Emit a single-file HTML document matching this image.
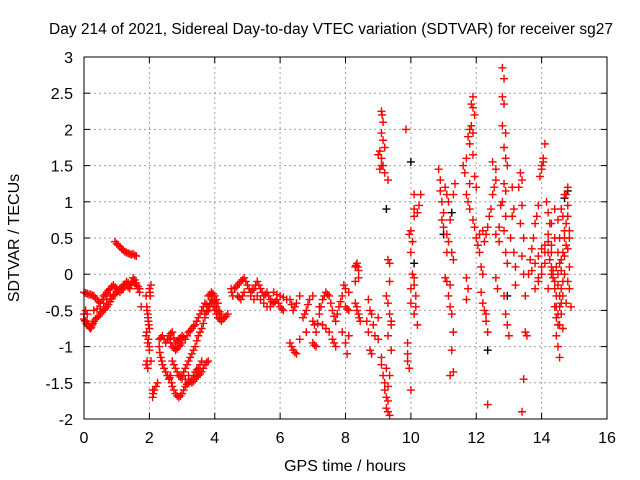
<!DOCTYPE html>
<html><head><meta charset="utf-8"><style>
body{margin:0;background:#fff;}
svg{display:block;font-family:"Liberation Sans",sans-serif;}
</style></head><body>
<svg id="chart" width="640" height="480">
<text x="331" y="34" text-anchor="middle" font-size="15.5">Day 214 of 2021, Sidereal Day-to-day VTEC variation (SDTVAR) for receiver sg27</text>
<text x="345" y="471" text-anchor="middle" font-size="16">GPS time / hours</text>
<text transform="translate(19,238) rotate(-90)" text-anchor="middle" font-size="16">SDTVAR / TECUs</text>
<g id="grid"></g><g id="ticks"></g><g id="black"></g><g id="red"></g>
<rect x="84" y="57" width="523" height="362" fill="none" stroke="#000" stroke-width="1"/>
</svg>
<script>
const xTicks=[0,2,4,6,8,10,12,14,16];
const yTicks=[-2,-1.5,-1,-0.5,0,0.5,1,1.5,2,2.5,3];
const yTickLabels=["-2","-1.5","-1","-0.5","0","0.5","1","1.5","2","2.5","3"];
const redHours=[0,0.05,0.1,0.15,0.2,0.25,0.3,0.4,0.5,0.6,0.7,0.8,0.9,1.0,1.1,1.2,1.3,1.4,1.5,1.6,1.7,
0,0.1,0.2,0.3,0.4,0.5,0.6,0.7,0.8,0.9,1.0,1.1,1.2,1.3,1.4,1.5,1.6,1.7,1.75,0.3,0.5,0.7,0.9,
0.95,1.0,1.1,1.2,1.3,1.4,1.5,1.6,
1.9,1.92,1.95,1.97,2.0,1.9,1.95,2.0,2.05,2.02,1.9,1.95,2.05,2.1,2.1,2.2,2.25,
2.3,2.4,2.5,2.6,2.7,2.8,2.9,3.0,3.1,3.2,3.3,3.4,3.5,3.6,3.7,3.8,3.9,4.0,4.1,4.2,
2.3,2.35,2.4,2.5,2.6,2.65,2.7,2.8,2.9,3.0,3.1,3.2,3.3,3.4,3.5,3.6,
2.7,2.8,2.9,3.0,3.1,3.2,3.0,3.1,3.2,3.3,3.4,3.5,3.6,3.7,3.3,3.4,3.5,3.6,3.7,3.8,2.6,2.7,2.8,2.9,3.0,
3.7,3.8,3.9,4.0,4.1,4.2,4.3,4.4,3.8,3.9,4.0,4.1,
4.5,4.55,4.6,4.7,4.8,4.9,5.0,5.1,5.2,5.3,5.4,5.5,5.6,5.7,5.8,5.9,6.0,6.1,6.2,4.7,4.8,4.9,5.2,5.4,5.6,5.8,6.0,
6.3,6.4,6.5,6.3,6.4,6.5,6.6,6.7,6.8,6.9,7.0,7.0,7.1,7.2,7.3,7.4,7.5,7.6,7.7,7.8,7.9,8.0,8.1,7.0,7.1,7.3,7.5,7.6,7.7,7.2,6.6,6.8,7.9,8.0,8.05,8.1,7.95,8.0,8.1,8.3,8.35,8.4,8.3,8.4,8.3,8.35,8.4,8.45,
8.7,8.75,8.8,8.65,8.7,8.85,8.9,8.75,8.8,9.0,9.0,9.1,9.1,9.15,9.2,9.25,9.3,9.25,9.3,9.35,9.2,9.3,9.35,9.25,9.3,9.4,9.35,9.3,9.25,9.35,9.3,9.35,9.4,9.4,
9.1,9.12,9.15,9.1,9.15,9.1,9.05,9.2,9.15,9.05,9.2,9.3,9.0,9.1,
9.85,9.9,9.9,9.95,9.9,10.0,10.0,10.0,9.95,10.0,10.05,10.0,10.05,10.1,10.1,10.1,10.15,10.1,10.2,10.1,10.15,10.2,10.25,10.1,10.3,
10.85,10.9,10.9,10.95,11.0,10.95,11.0,11.05,11.1,11.15,11.2,11.1,11.15,11.25,11.3,11.2,11.15,11.2,11.25,11.3,11.25,11.3,11.2,11.3,11.35,11.1,11.05,11.1,
11.6,11.65,11.7,11.75,11.8,11.85,11.9,11.85,11.9,11.9,11.95,11.8,11.9,11.95,12.0,11.7,11.75,11.8,11.9,11.95,12.0,12.05,12.1,12.15,12.2,12.15,12.2,12.25,12.3,12.3,12.35,12.35,12.1,12.2,12.25,12.3,12.35,12.4,12.45,12.5,12.55,12.6,12.5,11.7,11.75,11.7,11.8,
12.8,12.85,12.8,12.85,12.8,12.9,12.85,12.9,12.95,12.85,12.9,12.8,12.9,12.85,12.9,12.95,12.85,12.9,12.95,13.0,12.6,12.7,12.75,12.7,12.6,12.65,12.6,13.05,13.1,13.15,13.1,13.15,13.2,13.2,
13.35,13.4,13.3,13.4,13.35,13.45,13.4,13.45,13.5,13.5,13.45,13.4,13.55,13.6,13.65,13.7,13.75,13.8,13.85,13.9,13.95,14.0,14.05,14.0,14.1,14.05,14.15,14.2,14.25,14.2,14.3,14.25,14.3,14.35,14.4,14.4,14.45,14.5,14.45,14.5,14.55,14.6,14.6,14.65,14.7,14.65,14.7,14.75,14.8,14.75,14.8,14.85,14.8,14.85,14.8,14.85,14.9,14.85,14.8,
13.7,13.8,13.9,14.0,14.1,14.2,14.3,14.4,14.5,14.55,14.6,14.5,14.4,14.3,14.2,14.1,14.0,13.9,14.5,14.6,14.7,13.8,13.9,14.45,14.55,14.65,14.55];
const redValues=[-0.62,-0.65,-0.7,-0.72,-0.75,-0.7,-0.65,-0.6,-0.55,-0.5,-0.45,-0.38,-0.3,-0.25,-0.2,-0.15,-0.15,-0.2,-0.1,-0.15,-0.25,
-0.25,-0.27,-0.28,-0.3,-0.35,-0.4,-0.3,-0.25,-0.2,-0.15,-0.2,-0.25,-0.2,-0.1,-0.15,-0.05,-0.12,-0.2,-0.45,-0.5,-0.45,-0.35,-0.28,
0.45,0.42,0.38,0.33,0.3,0.28,0.28,0.25,
-0.3,-0.45,-0.55,-0.65,-0.75,-0.85,-0.95,-1.05,-0.15,-0.25,-1.25,-1.3,-1.2,-1.6,-1.7,-1.55,-1.5,
-0.9,-0.85,-0.95,-0.85,-0.8,-0.95,-0.9,-0.85,-0.9,-0.8,-0.75,-0.7,-0.6,-0.5,-0.4,-0.45,-0.35,-0.4,-0.5,-0.55,
-1.0,-1.15,-1.25,-1.35,-1.45,-1.4,-1.55,-1.65,-1.7,-1.65,-1.55,-1.5,-1.45,-1.35,-1.3,-1.2,
-1.2,-1.3,-1.4,-1.45,-1.45,-1.4,-1.4,-1.3,-1.2,-1.1,-1.0,-0.85,-0.75,-0.6,-1.5,-1.45,-1.4,-1.35,-1.25,-1.2,-0.9,-1.0,-1.05,-1.0,-0.95,
-0.55,-0.5,-0.4,-0.5,-0.6,-0.65,-0.6,-0.55,-0.3,-0.25,-0.3,-0.4,
-0.2,-0.3,-0.2,-0.15,-0.1,-0.05,-0.15,-0.25,-0.2,-0.1,-0.2,-0.3,-0.25,-0.35,-0.4,-0.35,-0.45,-0.5,-0.35,-0.3,-0.35,-0.25,-0.35,-0.35,-0.45,-0.25,-0.3,
-0.35,-0.5,-0.4,-0.95,-1.05,-1.1,-0.9,-0.6,-0.5,-0.35,-0.3,-0.65,-0.8,-0.55,-0.35,-0.25,-0.3,-0.5,-0.65,-0.45,-0.3,-0.45,-0.5,-0.95,-1.0,-0.7,-0.8,-0.9,-1.0,-0.45,-0.3,-0.8,-0.8,-0.95,-1.1,-0.85,-0.15,-0.2,-0.25,0.1,0.15,0.05,-0.1,-0.05,-0.4,-0.5,-0.55,-0.65,
-0.35,-0.5,-0.55,-0.65,-0.8,-0.7,-0.85,-1.05,-1.1,-0.6,-0.9,-1.15,-1.25,-1.4,-1.6,-1.7,-1.75,-1.85,-1.9,-1.95,-1.5,-1.55,-1.4,-1.3,-0.85,-0.7,-0.55,-0.4,-0.3,-0.1,0.2,0.15,-1.05,-0.65,
2.25,2.2,2.1,1.95,1.85,1.6,1.7,1.75,1.5,1.45,1.4,1.3,1.65,1.5,
2.0,-1.1,-1.2,-1.3,-0.95,-1.6,-0.4,-0.2,0.55,0.6,0.45,0.3,0.0,-0.05,0.9,0.8,-0.45,-0.55,-0.7,-0.15,-0.3,0.85,0.95,1.1,1.1,
1.45,1.15,1.3,1.0,0.85,0.75,0.65,1.2,1.1,1.0,0.75,0.55,0.45,0.3,0.2,-0.15,-0.3,-0.45,-0.55,-0.8,-1.05,-1.35,-1.4,1.1,1.25,0.3,-0.05,-0.1,
1.5,1.4,1.6,1.9,2.0,2.05,1.95,2.35,2.45,2.3,2.2,1.8,1.65,1.35,1.2,1.1,1.0,0.9,0.75,0.65,0.5,0.4,0.3,0.1,0.0,-0.25,-0.4,-0.5,-0.55,-0.65,-0.8,-1.8,0.55,0.6,0.45,0.55,0.65,0.8,0.9,1.1,1.2,1.3,1.55,-0.05,-0.2,-0.35,1.25,
2.85,2.7,2.45,2.35,2.05,1.95,1.75,1.6,1.5,1.25,1.15,1.0,0.8,0.6,0.3,0.15,-0.3,-0.55,-0.7,-0.85,0.55,0.65,0.95,0.45,-0.05,-0.2,1.45,0.5,0.8,0.9,1.2,0.3,0.1,-0.15,
1.4,1.3,1.2,0.95,0.7,0.5,0.25,0.0,-0.3,-0.8,-1.45,-1.9,-0.85,0.0,0.2,0.35,0.5,0.7,0.8,0.95,1.35,1.5,1.6,1.45,1.8,1.55,1.0,0.85,0.7,0.45,0.3,0.2,0.1,-0.05,-0.2,-0.45,-0.6,-0.7,-0.85,-1.0,-1.15,-0.55,-0.4,-0.3,0.0,0.3,0.5,0.7,0.8,1.1,1.2,0.6,0.35,0.1,-0.1,-0.2,-0.45,0.5,0.95,
0.05,0.15,0.25,0.35,0.4,0.55,0.7,0.9,0.75,0.5,0.2,0.0,-0.1,0.0,-0.2,0.15,0.0,-0.1,0.3,0.9,1.1,-0.2,-0.05,0.1,-0.3,-0.75,-0.45];
const denseHours=[0.025,0.075,0.125,0.175,0.225,0.275,0.35,0.45,0.55,0.65,0.75,0.85,0.95,1.05,1.15,1.25,1.35,1.45,1.55,1.65,
0.05,0.15,0.25,0.35,0.45,0.55,0.65,0.75,0.85,0.95,1.05,1.15,1.25,1.35,1.45,1.55,1.65,0.4,0.6,0.8,0.0,0.05,0.1,
1.05,1.15,1.25,1.35,1.45,1.55,
1.93,1.96,1.98,1.92,1.97,2.0,2.03,2.0,1.93,2.12,2.15,
2.35,2.45,2.55,2.65,2.75,2.85,2.95,3.05,3.15,3.25,3.35,3.45,3.55,3.65,3.75,3.85,3.95,4.05,4.15,
2.32,2.38,2.45,2.55,2.62,2.68,2.75,2.85,2.95,3.05,3.15,3.25,3.35,3.45,3.55,
2.75,2.85,2.95,3.05,3.15,3.25,3.35,3.45,3.55,3.65,3.35,3.45,3.55,3.65,3.75,2.65,2.75,2.85,2.95,
3.75,3.85,3.95,4.05,4.15,4.25,4.35,3.85,3.95,4.05,
4.52,4.65,4.75,4.85,4.95,5.05,5.15,5.25,5.35,5.45,5.55,5.65,5.75,5.85,5.95,6.05,4.75,4.85,5.1,5.3,5.5,5.7,5.9,6.1,
6.35,6.45,6.35,6.45,6.75,6.85,7.05,7.15,7.25,7.35,7.45,7.55,7.65,7.75,7.85,7.05,7.4,7.65,8.05,8.32,8.38,8.35,8.42,
14.35,14.45,14.5,14.6,14.65,14.7,14.75,14.6,14.55,14.7,14.75,14.65,14.0,14.1,14.2,14.3,14.4,14.45,14.5,14.55];
const denseValues=[-0.64,-0.68,-0.71,-0.74,-0.73,-0.68,-0.62,-0.58,-0.52,-0.48,-0.42,-0.34,-0.28,-0.22,-0.18,-0.14,-0.18,-0.15,-0.12,-0.2,
-0.26,-0.28,-0.29,-0.33,-0.38,-0.35,-0.28,-0.22,-0.17,-0.18,-0.22,-0.22,-0.15,-0.12,-0.1,-0.08,-0.17,-0.48,-0.4,-0.3,-0.55,-0.5,-0.55,
0.4,0.35,0.31,0.29,0.27,0.26,
-0.5,-0.6,-0.7,-0.8,-0.9,-1.0,-0.3,-0.2,-1.2,-1.65,-1.6,
-0.88,-0.9,-0.9,-0.82,-0.88,-0.92,-0.88,-0.87,-0.85,-0.78,-0.72,-0.65,-0.55,-0.45,-0.42,-0.4,-0.37,-0.45,-0.52,
-1.08,-1.2,-1.3,-1.4,-1.43,-1.5,-1.6,-1.68,-1.68,-1.6,-1.52,-1.48,-1.4,-1.32,-1.25,
-1.25,-1.35,-1.42,-1.35,-1.25,-1.15,-1.05,-0.92,-0.8,-0.68,-1.48,-1.42,-1.38,-1.3,-1.22,-0.95,-1.02,-1.03,-0.98,
-0.52,-0.45,-0.45,-0.55,-0.62,-0.62,-0.58,-0.28,-0.27,-0.35,
-0.25,-0.18,-0.12,-0.08,-0.1,-0.2,-0.22,-0.15,-0.15,-0.25,-0.28,-0.3,-0.38,-0.38,-0.4,-0.48,-0.32,-0.3,-0.3,-0.3,-0.4,-0.45,-0.28,-0.32,
-0.42,-0.45,-1.0,-1.08,-0.55,-0.42,-0.7,-0.68,-0.45,-0.3,-0.28,-0.4,-0.58,-0.55,-0.38,-0.98,-0.75,-0.95,-0.48,0.12,0.1,-0.45,-0.6,
0.05,-0.3,-0.15,0.05,-0.1,0.25,-0.4,-0.2,0.15,0.6,0.4,0.8,0.1,0.3,0.3,0.4,0.5,-0.45,-0.55,-0.7];
const blackHours=[9.25,10.0,10.1,11.25,11.0,12.35,12.95,14.8,14.7];
const blackValues=[0.9,1.55,0.15,0.85,0.55,-1.05,-0.3,1.15,1.05];

const X0=84,X1=607,Y0=419,Y1=57;
function xs(h){return X0+(h-0)/(16-0)*(X1-X0);}
function ys(v){return Y0-(v-(-2))/(3-(-2))*(Y0-Y1);}
const NS="http://www.w3.org/2000/svg";
function mk(tag,attrs,parent){const e=document.createElementNS(NS,tag);for(const k in attrs)e.setAttribute(k,attrs[k]);parent.appendChild(e);return e;}
const grid=document.getElementById('grid'),ticks=document.getElementById('ticks');
xTicks.forEach((t,i)=>{
  const x=xs(t);
  if(i>0&&i<xTicks.length-1){const g=mk('line',{x1:x,x2:x,y1:Y1,y2:Y0,stroke:'#a0a0a0','stroke-dasharray':'2,3'},grid);
  
  }
  mk('line',{x1:x,x2:x,y1:Y0,y2:Y0-6,stroke:'#000'},ticks);
  mk('line',{x1:x,x2:x,y1:Y1,y2:Y1+6,stroke:'#000'},ticks);
  const tx=mk('text',{x:x,y:443,'text-anchor':'middle','font-size':'16'},ticks);
  tx.textContent=String(t);
  
  
});
yTicks.forEach((t,i)=>{
  const y=ys(t);
  if(i>0&&i<yTicks.length-1){const g=mk('line',{x1:X0,x2:X1,y1:y,y2:y,stroke:'#a0a0a0','stroke-dasharray':'2,3'},grid);
  
  }
  mk('line',{x1:X0,x2:X0+6,y1:y,y2:y,stroke:'#000'},ticks);
  mk('line',{x1:X1,x2:X1-6,y1:y,y2:y,stroke:'#000'},ticks);
  const tx=mk('text',{x:73,y:y+6,'text-anchor':'end','font-size':'16'},ticks);
  tx.textContent=yTickLabels[i];
  
  
});
function plus(g,h,v,color){
  const x=xs(h),y=ys(v);
  return mk('path',{d:`M${x-4},${y}H${x+4}M${x},${y-4}V${y+4}`,stroke:color,'stroke-width':'1.4',fill:'none'},g);
}
const bg=document.getElementById('black');
blackHours.forEach((h,i)=>{const p=plus(bg,h,blackValues[i],'#000');

});
const rg=document.getElementById('red');
redHours.forEach((h,i)=>{const p=plus(rg,h,redValues[i],'#ff0000');

});
denseHours.forEach((h,i)=>{const p=plus(rg,h,denseValues[i],'#ff0000');

});
</script>
</body></html>
